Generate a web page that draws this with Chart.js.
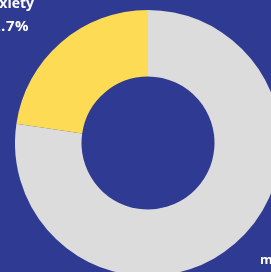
<!DOCTYPE html>
<html><head><meta charset="utf-8">
<script src="https://cdn.jsdelivr.net/npm/chart.js@4"></script>
<style>
html,body{margin:0;padding:0;width:271px;height:272px;overflow:hidden;background:#2f3b93;}
#wrap{position:absolute;left:15px;top:10px;width:266px;height:266px;}
.lbl{position:absolute;color:#fff;font-family:"Open Sans",Lato,sans-serif;font-weight:700;font-size:13px;line-height:13px;white-space:nowrap;}
</style></head><body>
<div id="wrap"><canvas id="c"></canvas></div>
<div class="lbl" id="l1" style="right:237px;top:-4px;font-size:14px;line-height:14px;">Anxiety</div>
<div class="lbl" id="l2" style="right:242px;top:18px;font-size:15px;line-height:15px;letter-spacing:0.5px;">22.7%</div>
<div class="lbl" id="l3" style="left:260px;top:253px;">m</div>
<script>
const categories = ["Other", "Anxiety"];
const values = [77.3, 22.7];
const colors = ["#dcdcdc", "#fddb55"];
new Chart(document.getElementById('c'), {
  type: 'doughnut',
  data: { labels: categories, datasets: [{ data: values, backgroundColor: colors, borderWidth: 0 }] },
  options: {
    responsive: true, maintainAspectRatio: false, animation: false,
    cutout: '50%',
    layout: { padding: 0 },
    plugins: { legend: { display: false }, tooltip: { enabled: false } }
  }
});
</script>
</body></html>
